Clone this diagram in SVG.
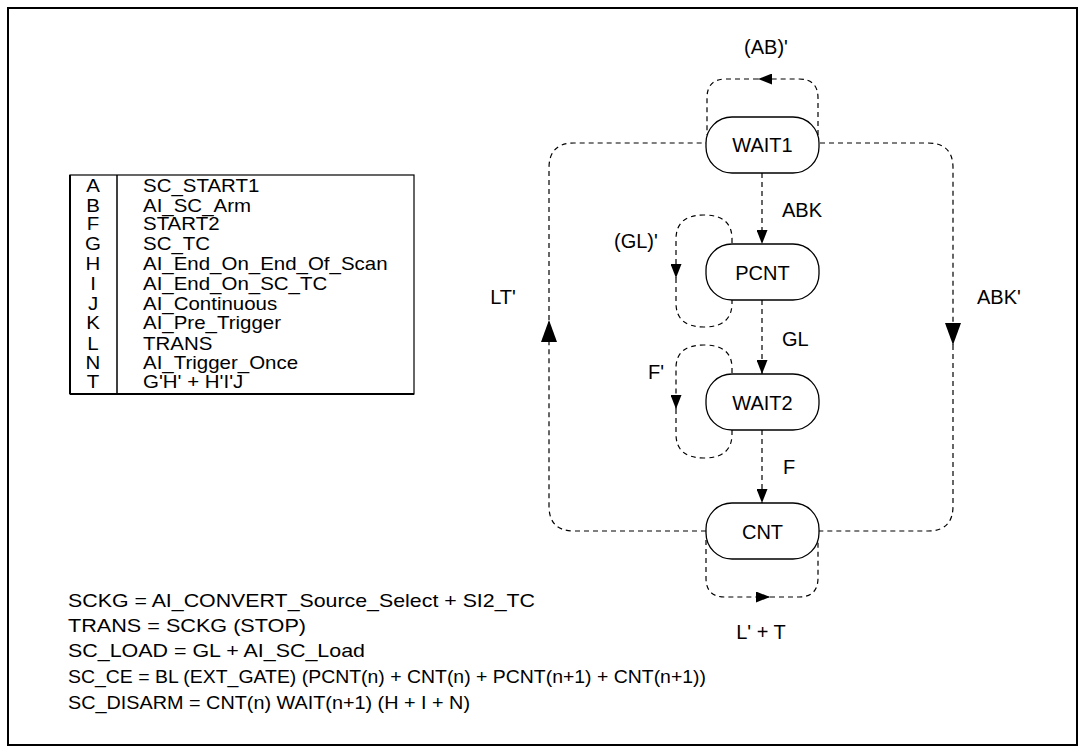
<svg xmlns="http://www.w3.org/2000/svg" width="1086" height="755" viewBox="0 0 1086 755">
<style>
text { font-family: "Liberation Sans", Arial, sans-serif; font-size: 20px; fill: #000; }
.c { text-anchor: middle; }
.t text { font-size: 17.5px; }
.eq text { font-size: 19px; }
.node rect { fill: #fff; stroke: #000; stroke-width: 1.3; }
.conn { fill: none; stroke: #000; stroke-width: 1.2; stroke-dasharray: 5 4; }
.tbl { fill: none; stroke: #000; stroke-width: 1.2; }
</style>
<defs>
<marker id="sm" markerUnits="userSpaceOnUse" viewBox="0 0 14 11" refX="14" refY="5.5" markerWidth="14" markerHeight="11" orient="auto"><path d="M0,0 L14,5.5 L0,11 Z" fill="#000"/></marker>
<marker id="lg" markerUnits="userSpaceOnUse" viewBox="0 0 22 16" refX="22" refY="8" markerWidth="22" markerHeight="16" orient="auto"><path d="M0,0 L22,8 L0,16 Z" fill="#000"/></marker>
</defs>
<rect x="8" y="8" width="1069" height="737" fill="#fff" stroke="#000" stroke-width="2"/>

<g id="connectors">
<path class="conn" d="M762,173 V244" marker-end="url(#sm)"/>
<path class="conn" d="M762,300 V374" marker-end="url(#sm)"/>
<path class="conn" d="M762,430 V503" marker-end="url(#sm)"/>
<path class="conn" d="M706,531 H574 Q549,531 549,506 V320" marker-end="url(#lg)"/>
<path class="conn" d="M549,320 V168 Q549,143 574,143 H707"/>
<path class="conn" d="M820,143 H928 Q953,143 953,168 V345" marker-end="url(#lg)"/>
<path class="conn" d="M953,345 V506 Q953,531 928,531 H819"/>
<path class="conn" d="M818,135 V98 Q818,79 799,79 H758" marker-end="url(#sm)"/>
<path class="conn" d="M758,79 H726 Q707,79 707,98 V135"/>
<path class="conn" d="M706,540 V578 Q706,597 725,597 H770" marker-end="url(#sm)"/>
<path class="conn" d="M770,597 H799 Q818,597 818,578 V540"/>
<path class="conn" d="M732,252 V239 Q732,215 704,215 Q676,215 676,239 V278" marker-end="url(#sm)"/>
<path class="conn" d="M676,278 V303 Q676,327 704,327 Q732,327 732,303 V292"/>
<path class="conn" d="M732,382 V368 Q732,345 704,345 Q676,345 676,368 V409" marker-end="url(#sm)"/>
<path class="conn" d="M676,409 V434 Q676,458 704,458 Q732,458 732,434 V422"/>
</g>

<g id="edge-labels">
<text class="c" x="766" y="54">(AB)'</text>
<text x="782" y="217">ABK</text>
<text x="782" y="346">GL</text>
<text x="783" y="474">F</text>
<text x="614" y="248">(GL)'</text>
<text x="648" y="379">F'</text>
<text class="c" x="503" y="304">LT'</text>
<text x="977" y="304">ABK'</text>
<text class="c" x="761" y="639">L' + T</text>
</g>

<g id="WAIT1" class="node"><rect x="706" y="117" width="113" height="56" rx="26" ry="26"/><text class="c" x="762.5" y="152">WAIT1</text></g>
<g id="PCNT" class="node"><rect x="706" y="244" width="113" height="56" rx="26" ry="26"/><text class="c" x="762.5" y="280">PCNT</text></g>
<g id="WAIT2" class="node"><rect x="706" y="374" width="113" height="56" rx="26" ry="26"/><text class="c" x="762.5" y="410">WAIT2</text></g>
<g id="CNT" class="node"><rect x="706" y="503" width="113" height="56" rx="26" ry="26"/><text class="c" x="762.5" y="539">CNT</text></g>

<g id="legend-table" class="t">
<rect class="tbl" x="70" y="175" width="344" height="219"/>
<line x1="70" y1="175" x2="70" y2="394" stroke="#000" stroke-width="2"/>
<line x1="70" y1="394" x2="414" y2="394" stroke="#000" stroke-width="2"/>
<line x1="117" y1="175" x2="117" y2="394" stroke="#000" stroke-width="1.5"/>
<g transform="translate(93 0) scale(1.17 1)">
<text class="c" x="0" y="192.5">A</text>
<text class="c" x="0" y="212.5">B</text>
<text class="c" x="0" y="230.5">F</text>
<text class="c" x="0" y="250.5">G</text>
<text class="c" x="0" y="270.5">H</text>
<text class="c" x="0" y="290.5">I</text>
<text class="c" x="0" y="310.5">J</text>
<text class="c" x="0" y="329.5">K</text>
<text class="c" x="0" y="350.5">L</text>
<text class="c" x="0" y="369.5">N</text>
<text class="c" x="0" y="388.5">T</text>
</g>
<g transform="translate(143 0) scale(1.17 1)">
<text x="0" y="192.5">SC_START1</text>
<text x="0" y="212.5">AI_SC_Arm</text>
<text x="0" y="230.5">START2</text>
<text x="0" y="250.5">SC_TC</text>
<text x="0" y="270.5">AI_End_On_End_Of_Scan</text>
<text x="0" y="290.5">AI_End_On_SC_TC</text>
<text x="0" y="310.5">AI_Continuous</text>
<text x="0" y="329.5">AI_Pre_Trigger</text>
<text x="0" y="350.5">TRANS</text>
<text x="0" y="369.5">AI_Trigger_Once</text>
<text x="0" y="388.5">G'H' + H'I'J</text>
</g>
</g>

<g id="equations" class="eq">
<text x="68" y="607" textLength="467" lengthAdjust="spacingAndGlyphs">SCKG = AI_CONVERT_Source_Select + SI2_TC</text>
<text x="68" y="632" textLength="238" lengthAdjust="spacingAndGlyphs">TRANS = SCKG (STOP)</text>
<text x="68" y="657" textLength="297" lengthAdjust="spacingAndGlyphs">SC_LOAD = GL + AI_SC_Load</text>
<text x="68" y="683" textLength="638" lengthAdjust="spacingAndGlyphs">SC_CE = BL (EXT_GATE) (PCNT(n) + CNT(n) + PCNT(n+1) + CNT(n+1))</text>
<text x="68" y="709" textLength="402" lengthAdjust="spacingAndGlyphs">SC_DISARM = CNT(n) WAIT(n+1) (H + I + N)</text>
</g>
</svg>
